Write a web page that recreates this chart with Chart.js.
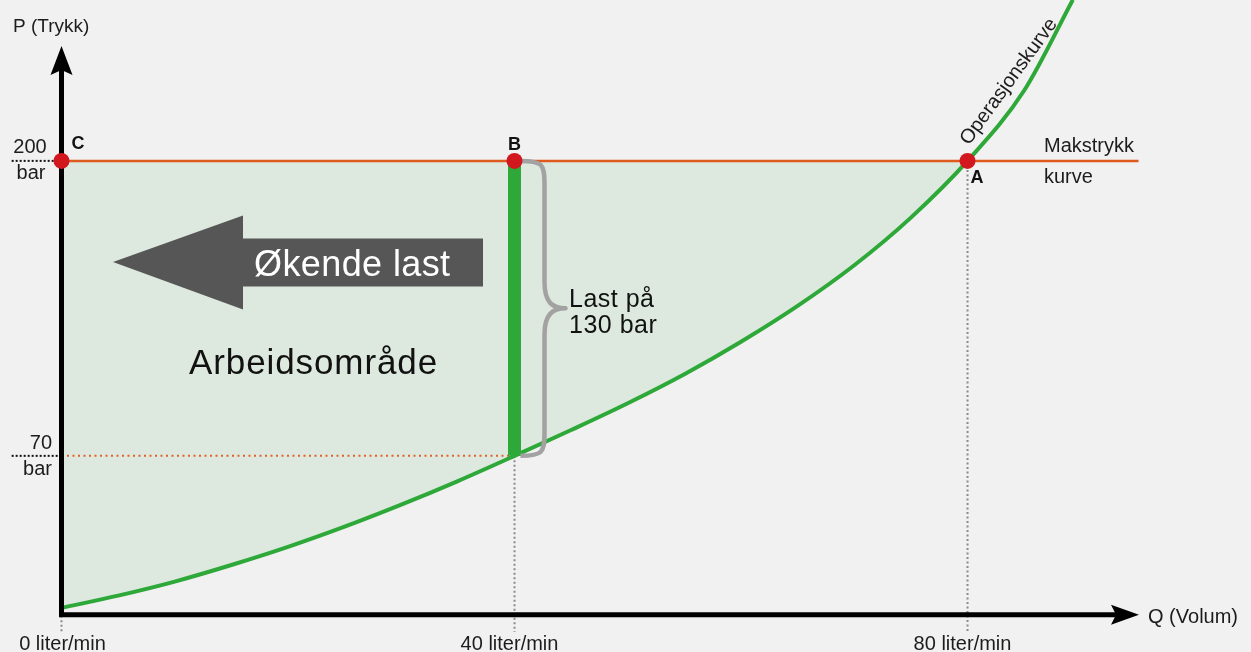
<!DOCTYPE html>
<html>
<head>
<meta charset="utf-8">
<script src="https://cdn.jsdelivr.net/npm/chart.js@4.4.1/dist/chart.umd.min.js"></script>
<style>
html,body{margin:0;padding:0;background:#f1f1f1;}
canvas{display:block;}
</style>
</head>
<body>
<canvas id="c" width="1251" height="652"></canvas>
<script>
// ---- data ----
const curveQ = [0, 5, 10, 15, 20, 25, 30, 35, 40, 45, 50, 55, 60, 65, 70, 75, 80, 85, 89.3];
const curveP = [3, 8.4, 14.6, 21.9, 29.9, 38.8, 48.5, 58.9, 70, 81.4, 93.2, 106, 120.3, 136.1, 154, 175, 200, 231, 271];
const maxPressure = 200;
const loadQ = 40;
const loadP = 70;
const maxQ = 80;
const xTickValues = [0, 40, 80];
const xTickLabels = ['0 liter/min', '40 liter/min', '80 liter/min'];
const yTickValues = [200, 70];
const yTickLabels = ['200', '70'];
const pointQ = [0, 40, 80];
const pointLabels = ['C', 'B', 'A'];

const FONT = '"Liberation Sans", Arial, Helvetica, sans-serif';
const pts = (xs, ys) => xs.map((x, i) => ({x, y: ys[i]}));
const fillQ = curveQ.filter(q => q <= maxQ);
const fillP = curveP.slice(0, fillQ.length);

const guide = (data, color, dash, width, order) => ({
  data, borderColor: color, borderWidth: width, borderDash: dash,
  pointRadius: 0, fill: false, order, tension: 0
});

const datasets = [
  { // working area fill
    data: pts(fillQ, fillP), borderWidth: 0, pointRadius: 0,
    backgroundColor: '#dde9de', fill: {value: maxPressure},
    cubicInterpolationMode: 'monotone', order: 10
  },
  guide([{x:-4.4,y:maxPressure},{x:0,y:maxPressure}], '#111', [2,2], 2, 9),
  guide([{x:-4.4,y:loadP},{x:0,y:loadP}], '#111', [2,2], 2, 9),
  guide([{x:0,y:-0.5},{x:0,y:-7.6}], '#8a8a8a', [2,2.5], 2, 9),
  guide([{x:loadQ,y:loadP},{x:loadQ,y:-7.6}], '#8a8a8a', [2,2.5], 2, 9),
  guide([{x:maxQ,y:maxPressure},{x:maxQ,y:-7.6}], '#8a8a8a', [2,2.5], 2, 9),
  guide([{x:0,y:loadP},{x:loadQ,y:loadP}], '#e2602a', [2,3.5], 2, 8),
  guide([{x:0,y:maxPressure},{x:95.1,y:maxPressure}], '#de5a1f', [], 2.5, 8),
  { // operating curve
    data: pts(curveQ, curveP), borderColor: '#2ea838', borderWidth: 4,
    pointRadius: 0, fill: false, cubicInterpolationMode: 'monotone', order: 7
  },
  { // load bar at 40 l/min
    data: [{x:loadQ,y:loadP},{x:loadQ,y:maxPressure}], borderColor: '#2ea838',
    borderWidth: 13, borderCapStyle: 'butt', pointRadius: 0, fill: false, order: 6
  },
  { // points C B A
    data: pointQ.map(q => ({x:q, y:maxPressure})), showLine: false,
    pointRadius: 8, pointHoverRadius: 8, pointBackgroundColor: '#d2171f',
    pointBorderWidth: 0, order: 1
  }
];
const POINTS_INDEX = datasets.length - 1;

function text(ctx, s, x, y, font, color, align, spacing) {
  ctx.save();
  ctx.font = font;
  ctx.fillStyle = color || '#1c1c1c';
  ctx.textAlign = align || 'left';
  ctx.textBaseline = 'alphabetic';
  ctx.letterSpacing = (spacing || 0) + 'px';
  ctx.fillText(s, x, y);
  ctx.restore();
}

const overlay = {
  id: 'overlay',
  beforeDraw(chart) {
    const ctx = chart.ctx;
    ctx.save();
    ctx.fillStyle = '#f1f1f1';
    ctx.fillRect(0, 0, chart.width, chart.height);
    ctx.restore();
  },
  beforeDatasetDraw(chart, args) {
    if (args.index !== POINTS_INDEX) return;
    const ctx = chart.ctx, xs = chart.scales.x, ys = chart.scales.y;
    const ox = xs.getPixelForValue(0), oy = ys.getPixelForValue(0);
    ctx.save();
    // axes
    ctx.strokeStyle = '#000';
    ctx.fillStyle = '#000';
    ctx.lineWidth = 5;
    ctx.lineCap = 'butt';
    ctx.beginPath();
    ctx.moveTo(ox, oy + 2.5); ctx.lineTo(ox, 70);
    ctx.moveTo(ox - 2.5, oy); ctx.lineTo(1116, oy);
    ctx.stroke();
    // y arrow head
    ctx.beginPath();
    ctx.moveTo(ox, 46);
    ctx.lineTo(ox + 11, 75);
    ctx.lineTo(ox, 70);
    ctx.lineTo(ox - 11, 75);
    ctx.closePath(); ctx.fill();
    // x arrow head
    ctx.beginPath();
    ctx.moveTo(1139, oy);
    ctx.lineTo(1111, oy + 10);
    ctx.lineTo(1116, oy);
    ctx.lineTo(1111, oy - 10);
    ctx.closePath(); ctx.fill();

    // brace
    const bx = xs.getPixelForValue(loadQ);
    const yT = ys.getPixelForValue(maxPressure), yB = ys.getPixelForValue(loadP);
    const ym = (yT + yB) / 2;
    ctx.strokeStyle = '#a2a2a2';
    ctx.lineWidth = 4.5;
    ctx.lineJoin = 'round';
    ctx.beginPath();
    ctx.moveTo(bx + 6, yT);
    ctx.bezierCurveTo(bx + 28, yT, bx + 30, yT + 3, bx + 30, yT + 24);
    ctx.lineTo(bx + 30, ym - 26);
    ctx.bezierCurveTo(bx + 30, ym - 6, bx + 38, ym, bx + 51, ym);
    ctx.bezierCurveTo(bx + 38, ym, bx + 30, ym + 6, bx + 30, ym + 26);
    ctx.lineTo(bx + 30, yB - 24);
    ctx.bezierCurveTo(bx + 30, yB - 3, bx + 28, yB, bx + 6, yB);
    ctx.stroke();
    ctx.restore();
  },
  afterDatasetsDraw(chart) {
    const ctx = chart.ctx, xs = chart.scales.x, ys = chart.scales.y;
    const small = '20px ' + FONT;
    // increasing load arrow
    ctx.save();
    ctx.fillStyle = '#565656';
    ctx.beginPath();
    ctx.moveTo(113, 262);
    ctx.lineTo(243, 215.5);
    ctx.lineTo(243, 238.5);
    ctx.lineTo(483, 238.5);
    ctx.lineTo(483, 286.5);
    ctx.lineTo(243, 286.5);
    ctx.lineTo(243, 309.5);
    ctx.closePath(); ctx.fill();
    ctx.restore();
    text(ctx, 'Økende last', 254, 276, '36px ' + FONT, '#ffffff', 'left', 0.4);
    text(ctx, 'Arbeidsområde', 189, 374, '35px ' + FONT, '#111', 'left', 0.9);
    text(ctx, 'Last på', 569, 307, '25px ' + FONT, '#111', 'left', 0.5);
    text(ctx, '130 bar', 569, 333, '25px ' + FONT, '#111', 'left', 0.5);

    // axis titles
    text(ctx, 'P (Trykk)', 13, 32, '19px ' + FONT, '#1c1c1c');
    text(ctx, 'Q (Volum)', 1148, 623, small, '#1c1c1c');

    // y tick labels
    const y200 = ys.getPixelForValue(yTickValues[0]);
    text(ctx, yTickLabels[0], 30, y200 - 8, small, '#1c1c1c', 'center');
    text(ctx, 'bar', 31, y200 + 18, small, '#1c1c1c', 'center');
    const y70 = ys.getPixelForValue(yTickValues[1]);
    text(ctx, yTickLabels[1], 52, y70 - 7, small, '#1c1c1c', 'right');
    text(ctx, 'bar', 52, y70 + 19, small, '#1c1c1c', 'right');

    // x tick labels
    xTickValues.forEach((v, i) => {
      const px = xs.getPixelForValue(v);
      text(ctx, xTickLabels[i], px + (i === 0 ? 1 : -5), 650, small, '#1c1c1c', 'center');
    });

    // point labels
    const bold = 'bold 18px ' + FONT;
    const pyMax = ys.getPixelForValue(maxPressure);
    text(ctx, pointLabels[0], xs.getPixelForValue(pointQ[0]) + 10, pyMax - 12, bold, '#111');
    text(ctx, pointLabels[1], xs.getPixelForValue(pointQ[1]), pyMax - 11, bold, '#111', 'center');
    text(ctx, pointLabels[2], xs.getPixelForValue(pointQ[2]) + 3, pyMax + 22, bold, '#111');

    // max pressure curve label
    text(ctx, 'Makstrykk', 1044, pyMax - 9, small, '#1c1c1c');
    text(ctx, 'kurve', 1044, pyMax + 22, small, '#1c1c1c');

    // operating curve label (rotated)
    ctx.save();
    ctx.translate(969, 146);
    ctx.rotate(-54 * Math.PI / 180);
    text(ctx, 'Operasjonskurve', 0, 0, small, '#1c1c1c');
    ctx.restore();
  }
};

new Chart(document.getElementById('c'), {
  type: 'line',
  data: { datasets },
  options: {
    responsive: false,
    devicePixelRatio: 1,
    animation: false,
    events: [],
    layout: { padding: 0, autoPadding: false },
    plugins: { legend: { display: false }, tooltip: { enabled: false } },
    scales: {
      x: { type: 'linear', min: -5.43, max: 105.03, display: false },
      y: { type: 'linear', min: -16.44, max: 270.9, display: false }
    }
  },
  plugins: [overlay]
});
</script>
</body>
</html>
